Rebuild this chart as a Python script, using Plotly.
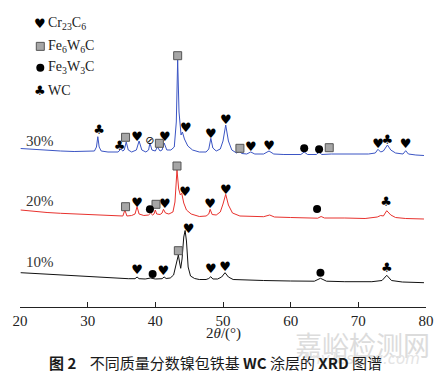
import plotly.graph_objects as go

# ---------------- data (2θ in degrees, intensity in arbitrary units, offsets included) ----------------
two_theta_30 = [20.1, 22, 24, 26, 28, 30, 31.0, 31.3, 31.5, 31.7, 32.0, 33, 34.5, 34.9, 35.2, 35.4, 35.7, 36.0,
                36.5, 37.2, 37.6, 38.0, 38.6, 39.0, 39.2, 39.5, 40.0, 40.3, 40.7, 41.0, 41.3, 41.7, 42.3, 42.8,
                43.1, 43.3, 43.5, 43.8, 44.0, 44.3, 44.8, 45.5, 46.5, 47.5, 47.9, 48.2, 48.5, 49.0, 49.6, 50.0,
                50.4, 50.8, 51.3, 52.0, 52.4, 52.8, 53.5, 54.1, 54.7, 56.0, 56.8, 57.5, 59, 61.5, 62.0, 62.5,
                63.8, 64.2, 64.6, 66, 68, 70, 71.5, 72.5, 72.9, 73.3, 73.7, 74.3, 74.8, 75.5, 76.6, 77.0, 77.4,
                78.5, 79.7]
intensity_30 = [158.5, 157.5, 156.5, 156, 155.5, 155.5, 156, 160, 170.3, 160, 156, 155, 155, 158, 156, 157, 165, 157,
                155, 157, 166, 157, 155, 157, 164, 157, 156, 160, 156, 157, 164, 157, 157, 160,
                185, 247, 195, 172, 175, 168, 161, 157, 155, 155, 158, 168.7, 159, 156, 158, 166,
                182, 166, 157, 154, 155.5, 153.5, 153, 155, 153, 153, 156, 153, 152.5, 152.5, 155, 152.5,
                152.5, 155, 152.5, 153, 153, 153, 153, 154, 157.7, 155, 156, 162, 157, 154, 153, 156.3, 153,
                152, 151.5]

two_theta_20 = [20.1, 22, 24, 26, 28, 30, 32, 34, 35.2, 35.5, 35.8, 36.5, 37.0, 37.3, 37.6, 38.3, 39.0, 39.3,
                39.6, 39.8, 40.0, 40.2, 40.7, 41.0, 41.2, 41.5, 42.0, 42.6, 42.9, 43.2, 43.45, 43.7, 43.9, 44.2,
                44.6, 45.3, 46.5, 47.5, 47.9, 48.1, 48.4, 49.0, 49.6, 50.0, 50.4, 50.8, 51.4, 52.5, 54, 56, 56.9,
                57.6, 60, 62, 64.0, 64.5, 65, 68, 71, 72.8, 73.3, 73.7, 74.2, 74.8, 75.5, 77, 79.7]
intensity_20 = [97, 95.5, 94.5, 93.7, 93, 92.5, 92, 91, 91, 97, 91, 91.5, 93, 100.3, 93, 91.5, 92, 94,
                92, 93, 97, 93, 92.5, 94, 97.7, 94, 93, 95, 105, 137, 118, 112, 113.7, 104,
                97, 93, 90.5, 91, 93, 97.7, 92.5, 92, 95, 103, 112.7, 102, 94, 91, 90.5, 90.3, 92,
                90, 89.5, 89, 88.8, 90.5, 89, 89, 88.5, 90, 91.5, 91, 96.3, 92, 89.5, 88.5, 88]

two_theta_10 = [20.1, 22, 24, 26, 28, 30, 32, 34, 36, 37.0, 37.3, 37.6, 38.5, 39.3, 40.0, 41.0, 41.3, 41.6,
                42.2, 42.7, 43.1, 43.4, 43.6, 43.75, 43.95, 44.2, 44.4, 44.6, 44.85, 45.2, 45.8, 46.5, 47.5,
                47.9, 48.2, 48.5, 49.2, 49.8, 50.3, 50.8, 51.5, 53, 56, 60, 63.5, 64.4, 65.3, 68, 72, 73.5,
                74.2, 74.9, 76.5, 79.7]
intensity_10 = [34.3, 33.5, 32.7, 32, 31.2, 30.5, 29.8, 29, 28.3, 28.3, 30, 28.3, 28, 29, 28, 28.3, 30, 28.5,
                29, 32, 43, 52, 44, 38.7, 48, 70, 76.5, 66, 40, 31, 28.5, 27.5, 27.5,
                28.5, 30.3, 28, 28, 30, 34.3, 30, 27.5, 27, 26.5, 26, 25.8, 28.7, 25.8, 25.3, 25.3, 26.5,
                31.7, 26.5, 25, 24.3]

# phase identification marks: position, label height, phase
# C = Cr23C6 (heart), F6 = Fe6W6C (square), F3 = Fe3W3C (circle), W = WC (club), U = unidentified
mark_pos_30 = [31.7, 34.7, 35.6, 37.3, 39.2, 40.6, 41.4, 43.3, 44.5, 48.2, 50.4, 52.5, 54.1, 56.8, 62.0, 64.2, 65.7, 72.9, 74.3, 77.0]
mark_h_30 = [176.3, 160.3, 169.7, 169.3, 165.3, 163.7, 169.3, 251.3, 178, 172.7, 186.3, 158.7, 159, 160.3, 158.7, 157.7, 159.3, 162, 166, 162]
mark_phase_30 = ["W", "W", "F6", "C", "U", "F6", "C", "F6", "C", "C", "C", "F6", "C", "C", "F3", "F3", "F6", "C", "W", "C"]

mark_pos_20 = [35.6, 37.3, 39.2, 40.1, 41.4, 43.2, 44.4, 48.1, 50.4, 63.9, 74.1]
mark_h_20 = [100.3, 103.7, 97.7, 102.7, 102, 141, 114.7, 102.7, 116.3, 98, 104.3]
mark_phase_20 = ["F6", "C", "F3", "F6", "C", "F6", "C", "C", "C", "F3", "W"]

mark_pos_10 = [37.3, 39.6, 41.2, 43.4, 44.9, 48.2, 50.3, 64.4, 74.2]
mark_h_10 = [36, 33, 35, 56.3, 77, 37.7, 39.7, 34.3, 38.3]
mark_phase_10 = ["C", "F3", "C", "F6", "C", "C", "C", "F3", "W"]

series_names = ["30%", "20%", "10%"]
legend_names = ["Cr<sub>23</sub>C<sub>6</sub>", "Fe<sub>6</sub>W<sub>6</sub>C", "Fe<sub>3</sub>W<sub>3</sub>C", "WC"]
legend_phases = ["C", "F6", "F3", "W"]
x_ticks = [20, 30, 40, 50, 60, 70, 80]

# ---------------- figure ----------------
SERIF = "Liberation Serif, Times New Roman, serif"
fig = go.Figure()

curves = [(two_theta_30, intensity_30, "#3b55c4"),
          (two_theta_20, intensity_20, "#e8322e"),
          (two_theta_10, intensity_10, "#111111")]
for (xs, ys, col), name in zip(curves, series_names):
    fig.add_trace(go.Scatter(x=xs, y=ys, mode="lines", name=name,
                             line=dict(color=col, width=1), showlegend=False))

GLYPH = {"C": "♥", "W": "♣", "U": "⊘"}

def add_marks(pos, h, phase):
    for code in ["C", "W", "U"]:
        xs = [p for p, c in zip(pos, phase) if c == code]
        ys = [v for v, c in zip(h, phase) if c == code]
        if xs:
            fig.add_trace(go.Scatter(x=xs, y=ys, mode="text", text=[GLYPH[code]] * len(xs),
                                     textfont=dict(size=13 if code != "U" else 11, color="black",
                                                   family="DejaVu Sans"),
                                     showlegend=False, hoverinfo="skip"))
    xs = [p for p, c in zip(pos, phase) if c == "F6"]
    ys = [v for v, c in zip(h, phase) if c == "F6"]
    if xs:
        fig.add_trace(go.Scatter(x=xs, y=ys, mode="markers",
                                 marker=dict(symbol="square", size=8, color="#a6a6a6",
                                             line=dict(color="#555555", width=1)),
                                 showlegend=False, hoverinfo="skip"))
    xs = [p for p, c in zip(pos, phase) if c == "F3"]
    ys = [v for v, c in zip(h, phase) if c == "F3"]
    if xs:
        fig.add_trace(go.Scatter(x=xs, y=ys, mode="markers",
                                 marker=dict(symbol="circle", size=8, color="black"),
                                 showlegend=False, hoverinfo="skip"))

add_marks(mark_pos_30, mark_h_30, mark_phase_30)
add_marks(mark_pos_20, mark_h_20, mark_phase_20)
add_marks(mark_pos_10, mark_h_10, mark_phase_10)

annotations = []
# legend (drawn manually, in paper coordinates)
leg_y = [0.924, 0.849, 0.779, 0.705]
for name, code, yy in zip(legend_names, legend_phases, leg_y):
    if code in GLYPH:
        annotations.append(dict(x=0.05, y=yy, xref="paper", yref="paper", text=GLYPH[code],
                                showarrow=False, font=dict(size=13, color="black", family="DejaVu Sans"),
                                xanchor="center", yanchor="middle"))
    annotations.append(dict(x=0.063, y=yy, xref="paper", yref="paper", text=name, showarrow=False,
                            font=dict(size=14, color="#222", family=SERIF),
                            xanchor="left", yanchor="middle"))

fig.add_trace(go.Scatter(x=[0.05], y=[0.849], xaxis="x2", yaxis="y2", mode="markers",
                         marker=dict(symbol="square", size=8, color="#a6a6a6",
                                     line=dict(color="#555555", width=1)),
                         showlegend=False, hoverinfo="skip"))
fig.add_trace(go.Scatter(x=[0.05], y=[0.779], xaxis="x2", yaxis="y2", mode="markers",
                         marker=dict(symbol="circle", size=8, color="black"),
                         showlegend=False, hoverinfo="skip"))

# series labels
for name, yy in zip(series_names, [0.541, 0.345, 0.147]):
    annotations.append(dict(x=0.01, y=yy, xref="paper", yref="paper", text=name, showarrow=False,
                            font=dict(size=15, color="#333", family=SERIF),
                            xanchor="left", yanchor="middle"))

# axis title
annotations.append(dict(x=0.502, y=-0.087, xref="paper", yref="paper", text="2<i>θ</i>/(°)",
                        showarrow=False, font=dict(size=15, color="#222", family=SERIF),
                        xanchor="center", yanchor="middle"))
# watermark
annotations.append(dict(x=0.843, y=-0.123, xref="paper", yref="paper", text="嘉峪检测网",
                        showarrow=False, font=dict(size=27, color="#dcdcdc", family="Noto Sans CJK SC"),
                        xanchor="center", yanchor="middle"))
annotations.append(dict(x=0.99, y=-0.17, xref="paper", yref="paper", text="<i>AnyTesting.com</i>",
                        showarrow=False, font=dict(size=15, color="#e4e4e4", family="DejaVu Sans"),
                        xanchor="right", yanchor="middle"))
# caption
annotations.append(dict(x=0.482, y=-0.182, xref="paper", yref="paper",
                        text="<b>图 2</b>    不同质量分数镍包铁基 <b>WC</b> 涂层的 <b>XRD</b> 图谱",
                        showarrow=False, font=dict(size=15, color="#1a1a1a", family="Noto Sans CJK SC"),
                        xanchor="center", yanchor="middle"))

fig.update_layout(
    width=442, height=378,
    margin=dict(l=20, r=16, t=0, b=71),
    paper_bgcolor="white", plot_bgcolor="white",
    showlegend=False,
    annotations=annotations,
    xaxis=dict(range=[20, 80], tickvals=x_ticks, ticktext=[str(t) for t in x_ticks],
               showline=True, linecolor="#222", linewidth=1, mirror=False,
               ticks="inside", ticklen=5, tickwidth=1, tickcolor="#222",
               showgrid=False, zeroline=False,
               tickfont=dict(size=15, color="#222", family=SERIF)),
    yaxis=dict(range=[0, 307], visible=False, showgrid=False, zeroline=False),
    xaxis2=dict(range=[0, 1], domain=[0, 1], anchor="y2", overlaying="x", visible=False),
    yaxis2=dict(range=[0, 1], domain=[0, 1], anchor="x2", overlaying="y", visible=False),
)

fig.write_html("out.html", config={"displayModeBar": False},
               post_script="document.body.style.margin='0';document.body.style.overflow='hidden';")
